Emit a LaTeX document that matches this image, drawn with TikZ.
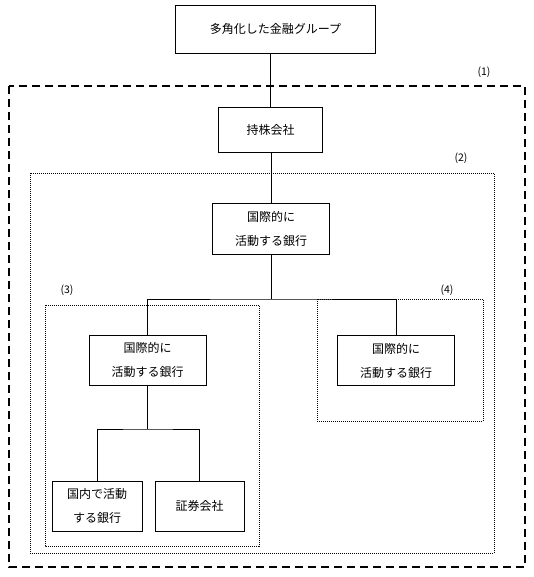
\documentclass[tikz,border=0pt]{standalone}
\usepackage{fontspec}
\newfontfamily\jpfont{Noto Sans CJK JP}
\usetikzlibrary{arrows,positioning}
\usetikzlibrary{calc}
\tikzset{
 box/.style={draw,line width=0.8pt,font=\jpfont\fontsize{12}{24}\selectfont,align=center,inner sep=0pt},
 tag/.style={font=\jpfont\fontsize{10.5}{12}\selectfont,inner sep=0pt},
 groupA/.style={line width=1.6pt,dash pattern=on 8pt off 5pt},
 groupB/.style={line width=0.6pt,dash pattern=on 1pt off 1pt}
}
\begin{document}
\begin{tikzpicture}[x=1pt,y=-1pt]
\useasboundingbox (0,0) rectangle (533,577);
\draw [groupA] (9,86) rectangle (525,567);
\draw [groupB] (30,173) rectangle (494,553);
\draw [groupB] (45,305) rectangle (259,546);
\draw [groupB] (317,299) rectangle (483,421);
\node[tag] (t1) at (484,72) {(1)};
\node[tag] (t2) at (461,158) {(2)};
\node[tag] (t3) at (67,290) {(3)};
\node[tag] (t4) at (447,290) {(4)};
\node[box,minimum width=200pt,minimum height=48pt] (grp) at (275.5,29) {多角化した金融グループ};
\node[box,minimum width=104pt,minimum height=45pt] (hold) at (270.5,129.5) {持株会社};
\node[box,minimum width=117pt,minimum height=51pt] (intl) at (271,228.5) {国際的に\\活動する銀行};
\node[box,minimum width=117pt,minimum height=50pt] (bankA) at (147.5,360) {国際的に\\活動する銀行};
\node[box,minimum width=117pt,minimum height=50pt] (bankB) at (396,360.5) {国際的に\\活動する銀行};
\node[box,minimum width=90pt,minimum height=50pt] (dom) at (97,506) {国内で活動\\する銀行};
\node[box,minimum width=89pt,minimum height=50pt] (sec) at (199.5,506) {証券会社};
\coordinate (fork1) at (271,299);
\coordinate (fork2) at (147.5,429);
\draw [line width=0.8pt] (hold) -- (hold |- grp.south);
\draw [line width=0.8pt] (intl) -- (intl |- hold.south);
\draw [line width=0.8pt] (intl) -- (fork1);
\draw [line width=0.8pt] (bankA) |- (fork1) -| (bankB);
\draw [line width=0.8pt] (bankA) -- (fork2);
\draw [line width=0.8pt] (dom) |- (fork2) -| (sec);
\end{tikzpicture}
\end{document}
